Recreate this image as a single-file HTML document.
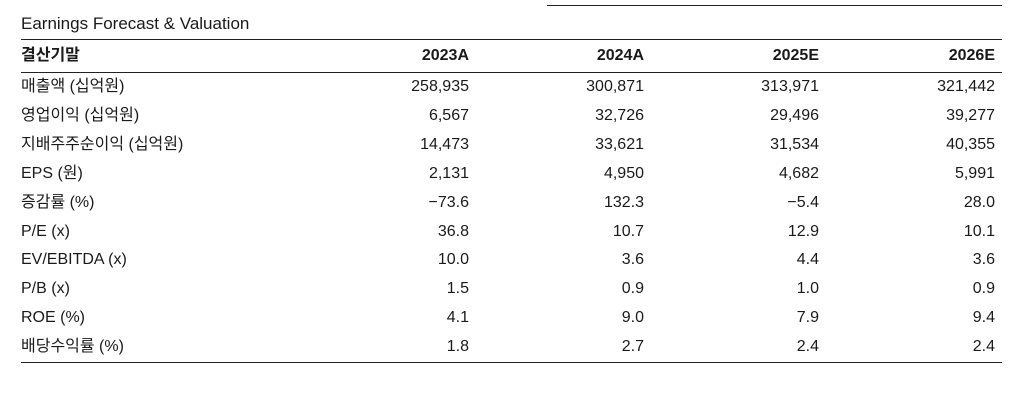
<!DOCTYPE html>
<html><head><meta charset="utf-8"><style>
body{margin:0;width:1026px;height:407px;background:#fff;position:relative;overflow:hidden;font-family:"Liberation Sans","Noto Sans CJK KR",sans-serif;color:#1a1a1a}
.t{position:absolute;font-size:16px;line-height:20px;white-space:nowrap}
.r{text-align:right}
.h{font-weight:bold}
.ln{position:absolute;height:1px;background:#222}
</style></head><body>
<div class="ln" style="left:547px;top:5px;width:455px"></div>
<div class="t" style="left:21px;top:14px;font-size:17px">Earnings Forecast &amp; Valuation</div>
<div class="ln" style="left:21px;top:39px;width:981px"></div>
<div class="ln" style="left:21px;top:72px;width:981px"></div>
<div class="ln" style="left:21px;top:362px;width:981px"></div>
<div id="tbl"></div>
<script>
const headers=["결산기말","2023A","2024A","2025E","2026E"];
const labels=["매출액 (십억원)","영업이익 (십억원)","지배주주순이익 (십억원)","EPS (원)","증감률 (%)","P/E (x)","EV/EBITDA (x)","P/B (x)","ROE (%)","배당수익률 (%)"];
const v2023=["258,935","6,567","14,473","2,131","−73.6","36.8","10.0","1.5","4.1","1.8"];
const v2024=["300,871","32,726","33,621","4,950","132.3","10.7","3.6","0.9","9.0","2.7"];
const v2025=["313,971","29,496","31,534","4,682","−5.4","12.9","4.4","1.0","7.9","2.4"];
const v2026=["321,442","39,277","40,355","5,991","28.0","10.1","3.6","0.9","9.4","2.4"];
const tbl=document.getElementById('tbl');
const rights=[469,644,819,995];
function cell(txt,y,col,bold,name){
  const d=document.createElement('div');
  d.className='t'+(bold?' h':'')+(col>=0?' r':'');
  d.textContent=txt;
  if(col<0){d.style.left='21px';}else{d.style.right=(1026-rights[col])+'px';}
  d.style.top=(y-10)+'px';
  
  
  tbl.appendChild(d);
}
cell(headers[0],56,-1,true,'header-label');
for(let c=0;c<4;c++)cell(headers[c+1],56,c,true,'header-'+headers[c+1]);
const cols=[v2023,v2024,v2025,v2026];
for(let i=0;i<labels.length;i++){
  const y=87+i*28.9;
  cell(labels[i],y,-1,false,'row-label');
  for(let c=0;c<4;c++)cell(cols[c][i],y,c,false,'cell-value');
}
</script>
</body></html>
